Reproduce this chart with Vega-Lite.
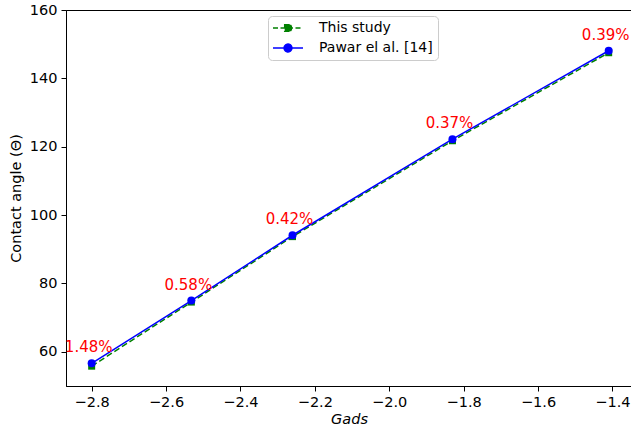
{
  "$schema": "https://vega.github.io/schema/vega-lite/v6.json",
  "width": 566,
  "height": 376,
  "autosize": {"type": "none"},
  "padding": {"left": 66, "top": 10, "right": 0, "bottom": 44},
  "background": "white",
  "config": {
    "view": {"stroke": "#000000", "strokeWidth": 1},
    "font": "DejaVu Sans",
    "axis": {
      "domainColor": "#000000",
      "tickColor": "#000000",
      "labelColor": "#000000",
      "titleColor": "#000000",
      "labelFont": "DejaVu Sans",
      "titleFont": "DejaVu Sans",
      "labelFontSize": 14.5,
      "titleFontSize": 14.5,
      "titleFontWeight": "normal",
      "tickSize": 5,
      "labelPadding": 4,
      "grid": false,
      "labelFlush": false,
      "labelOverlap": false
    }
  },
  "datasets": {
    "series": [
      {"series": "This study", "G": -2.8, "theta": 55.8},
      {"series": "This study", "G": -2.532, "theta": 74.55},
      {"series": "This study", "G": -2.26, "theta": 93.7},
      {"series": "This study", "G": -1.83, "theta": 121.75},
      {"series": "This study", "G": -1.41, "theta": 147.5},
      {"series": "Pawar el al. [14]", "G": -2.8, "theta": 56.63},
      {"series": "Pawar el al. [14]", "G": -2.532, "theta": 74.98},
      {"series": "Pawar el al. [14]", "G": -2.26, "theta": 94.1},
      {"series": "Pawar el al. [14]", "G": -1.83, "theta": 122.2},
      {"series": "Pawar el al. [14]", "G": -1.41, "theta": 148.08}
    ],
    "labels": [
      {"G": -2.8, "theta": 56.63, "label": "1.48%"},
      {"G": -2.532, "theta": 74.98, "label": "0.58%"},
      {"G": -2.26, "theta": 94.1, "label": "0.42%"},
      {"G": -1.83, "theta": 122.2, "label": "0.37%"},
      {"G": -1.41, "theta": 148.08, "label": "0.39%"}
    ]
  },
  "encoding": {
    "x": {
      "field": "G",
      "type": "quantitative",
      "scale": {"domain": [-2.869, -1.3473], "nice": false, "zero": false},
      "axis": {
        "values": [-2.8, -2.6, -2.4, -2.2, -2.0, -1.8, -1.6, -1.4],
        "format": ".1f",
        "title": "Gads",
        "titleFontStyle": "italic",
        "titlePadding": 4
      }
    },
    "y": {
      "field": "theta",
      "type": "quantitative",
      "scale": {"domain": [50, 160], "nice": false, "zero": false},
      "axis": {
        "values": [60, 80, 100, 120, 140, 160],
        "title": "Contact angle (Θ)",
        "titlePadding": 6
      }
    }
  },
  "layer": [
    {
      "data": {"name": "series"},
      "transform": [{"filter": "datum.series === 'This study'"}],
      "mark": {"type": "line", "color": "#008000", "strokeWidth": 1.5, "strokeDash": [6, 3]}
    },
    {
      "data": {"name": "series"},
      "transform": [{"filter": "datum.series === 'This study'"}],
      "mark": {"type": "point", "shape": "square", "filled": true, "color": "#008000", "opacity": 1, "size": 49}
    },
    {
      "data": {"name": "series"},
      "transform": [{"filter": "datum.series !== 'This study'"}],
      "mark": {"type": "line", "color": "#0000ff", "strokeWidth": 1.5}
    },
    {
      "data": {"name": "series"},
      "transform": [{"filter": "datum.series !== 'This study'"}],
      "mark": {"type": "point", "shape": "circle", "filled": true, "color": "#0000ff", "opacity": 1, "size": 64}
    },
    {
      "data": {"name": "labels"},
      "mark": {"type": "text", "color": "#ff0000", "fontSize": 15, "font": "DejaVu Sans", "baseline": "middle", "align": "center", "dy": -16, "dx": -3},
      "encoding": {"text": {"field": "label", "type": "nominal"}}
    },
    {
      "data": {"name": "series"},
      "mark": {"type": "point", "filled": true, "opacity": 0},
      "encoding": {
        "fill": {
          "field": "series", "type": "nominal",
          "scale": {"domain": ["This study", "Pawar el al. [14]"], "range": ["#008000", "#0000ff"]},
          "legend": {"title": null, "orient": "none", "legendX": 202, "legendY": 6, "symbolSize": 144, "symbolStrokeWidth": 1.5, "symbolOpacity": 1, "labelFontSize": 14, "labelFont": "DejaVu Sans", "labelColor": "#000000", "padding": 5, "fillColor": "white", "strokeColor": "#cccccc", "cornerRadius": 4, "rowPadding": 6, "symbolOffset": 8, "labelOffset": 24}
        },
        "stroke": {
          "field": "series", "type": "nominal",
          "scale": {"domain": ["This study", "Pawar el al. [14]"], "range": ["#008000", "#0000ff"]},
          "legend": {"title": null, "orient": "none", "legendX": 202, "legendY": 6, "symbolSize": 144, "symbolStrokeWidth": 1.5, "symbolOpacity": 1, "labelFontSize": 14, "labelFont": "DejaVu Sans", "labelColor": "#000000", "padding": 5, "fillColor": "white", "strokeColor": "#cccccc", "cornerRadius": 4, "rowPadding": 6, "symbolOffset": 8, "labelOffset": 24}
        },
        "shape": {
          "field": "series", "type": "nominal",
          "scale": {"domain": ["This study", "Pawar el al. [14]"], "range": ["M-2.5,0H2.5M-0.55,-0.55H0.55V0.55H-0.55Z", "M-2.5,0H2.5M0.65,0A0.65,0.65 0 1,1 -0.65,0A0.65,0.65 0 1,1 0.65,0Z"]},
          "legend": {"title": null, "orient": "none", "legendX": 202, "legendY": 6, "symbolSize": 144, "symbolStrokeWidth": 1.5, "symbolOpacity": 1, "labelFontSize": 14, "labelFont": "DejaVu Sans", "labelColor": "#000000", "padding": 5, "fillColor": "white", "strokeColor": "#cccccc", "cornerRadius": 4, "rowPadding": 6, "symbolOffset": 8, "labelOffset": 24}
        },
        "strokeDash": {
          "field": "series", "type": "nominal",
          "scale": {"domain": ["This study", "Pawar el al. [14]"], "range": [[5, 2.5], [1, 0]]},
          "legend": {"title": null, "orient": "none", "legendX": 202, "legendY": 6, "symbolSize": 144, "symbolStrokeWidth": 1.5, "symbolOpacity": 1, "labelFontSize": 14, "labelFont": "DejaVu Sans", "labelColor": "#000000", "padding": 5, "fillColor": "white", "strokeColor": "#cccccc", "cornerRadius": 4, "rowPadding": 6, "symbolOffset": 8, "labelOffset": 24}
        }
      }
    }
  ]
}
